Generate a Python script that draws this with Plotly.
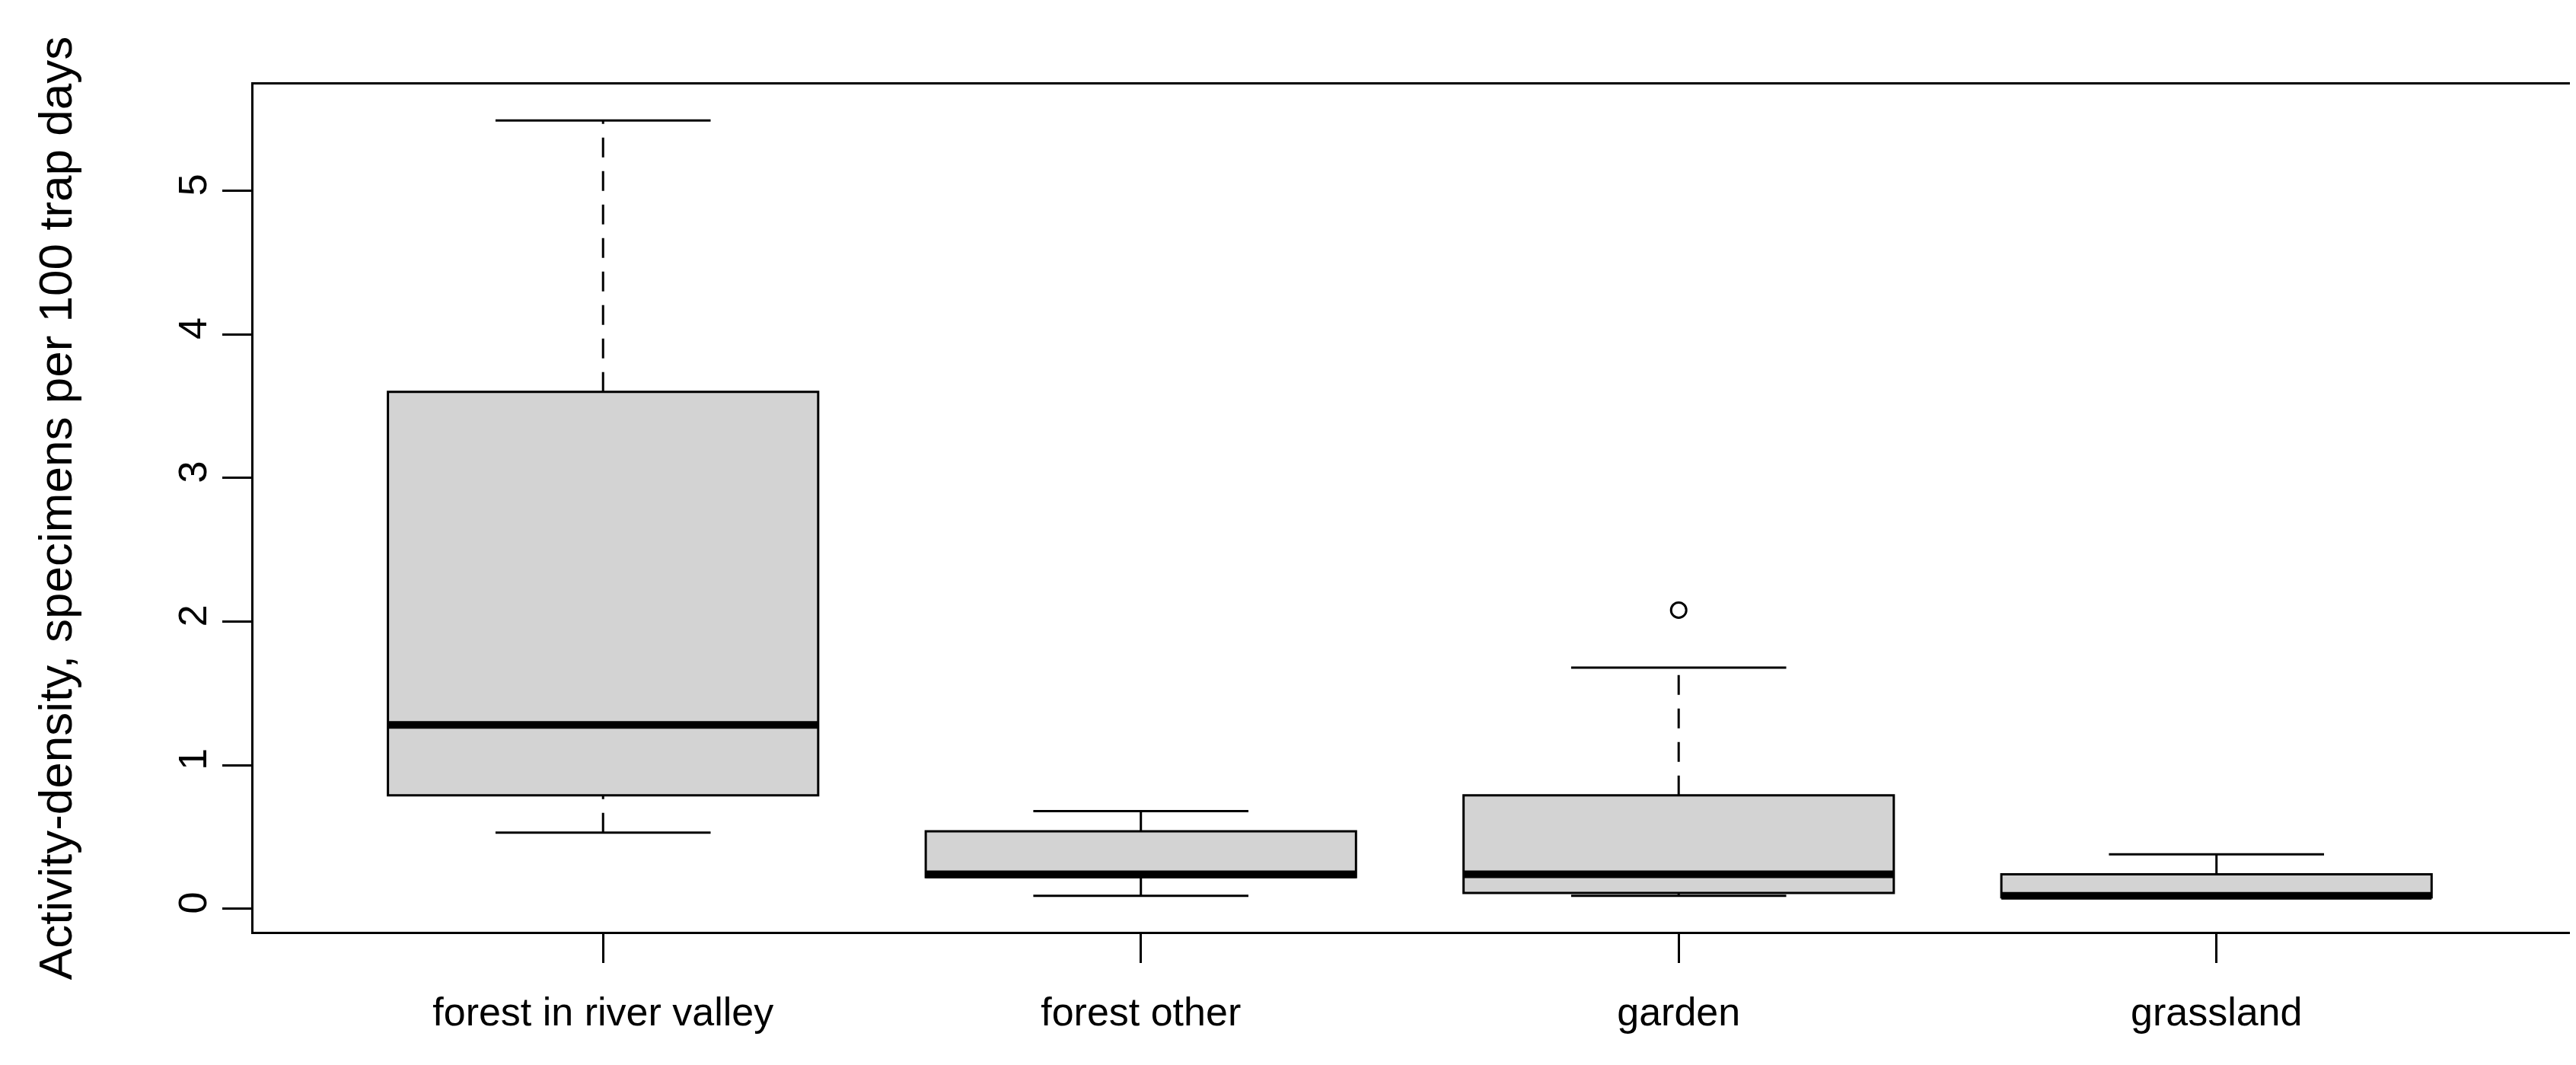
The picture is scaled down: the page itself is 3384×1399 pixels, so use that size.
import plotly.graph_objects as go

# habitat groups and box statistics
habitats = ["forest in river valley", "forest other", "garden", "grassland"]
lower = [0.53, 0.09, 0.09, 0.08]
q1 = [0.79, 0.22, 0.11, 0.08]
median = [1.28, 0.24, 0.24, 0.09]
q3 = [3.60, 0.54, 0.79, 0.24]
upper = [5.49, 0.68, 1.68, 0.38]
outlier_group = [2]
outlier_value = [2.08]

pos = list(range(len(habitats)))
BW = 0.4
CW = 0.2
LINE = "black"

fig = go.Figure()

# boxes (no whiskers: fences set to quartiles)
fig.add_trace(go.Box(
    x=pos, q1=q1, median=median, q3=q3, lowerfence=q1, upperfence=q3,
    fillcolor="#d3d3d3", line=dict(color=LINE, width=3), width=0.8,
    boxpoints=False, hoverinfo="skip", showlegend=False,
))

for i in pos:
    # dashed whiskers
    for a, b in [(q3[i], upper[i]), (lower[i], q1[i])]:
        fig.add_trace(go.Scatter(x=[i, i], y=[a, b], mode="lines",
                                 line=dict(color=LINE, width=3, dash="26px,18px"),
                                 showlegend=False))
    # whisker caps
    for v in (upper[i], lower[i]):
        fig.add_trace(go.Scatter(x=[i - CW, i + CW], y=[v, v], mode="lines",
                                 line=dict(color=LINE, width=3), showlegend=False))
    # thick median
    fig.add_trace(go.Scatter(x=[i - BW, i + BW], y=[median[i], median[i]], mode="lines",
                             line=dict(color=LINE, width=10), showlegend=False))

fig.add_trace(go.Scatter(x=outlier_group, y=outlier_value, mode="markers",
                         marker=dict(symbol="circle-open", size=20, color=LINE,
                                     line=dict(width=3)),
                         showlegend=False))

font = dict(family="Liberation Sans, Arial", size=52, color="black")
fig.update_layout(
    width=3384, height=1399,
    paper_bgcolor="white", plot_bgcolor="white",
    margin=dict(l=325, r=14, t=103, b=183),
    font=font,
    xaxis=dict(range=[-0.65, 3.66], tickmode="array", tickvals=pos, ticktext=habitats,
               ticks="outside", ticklen=38, tickwidth=3, tickcolor=LINE,
               showgrid=False, zeroline=False, showline=True, mirror=True,
               linecolor=LINE, linewidth=3),
    yaxis=dict(range=[-0.16, 5.74], tickvals=[0, 1, 2, 3, 4, 5], tickangle=-90,
               ticks="outside", ticklen=38, tickwidth=3, tickcolor=LINE,
               showgrid=False, zeroline=False, showline=True, mirror=True,
               linecolor=LINE, linewidth=3,
               title=dict(text="Activity-density, specimens per 100 trap days",
                          standoff=110)),
)
fig.update_xaxes(ticklabelstandoff=20)

fig.write_html("out.html")
